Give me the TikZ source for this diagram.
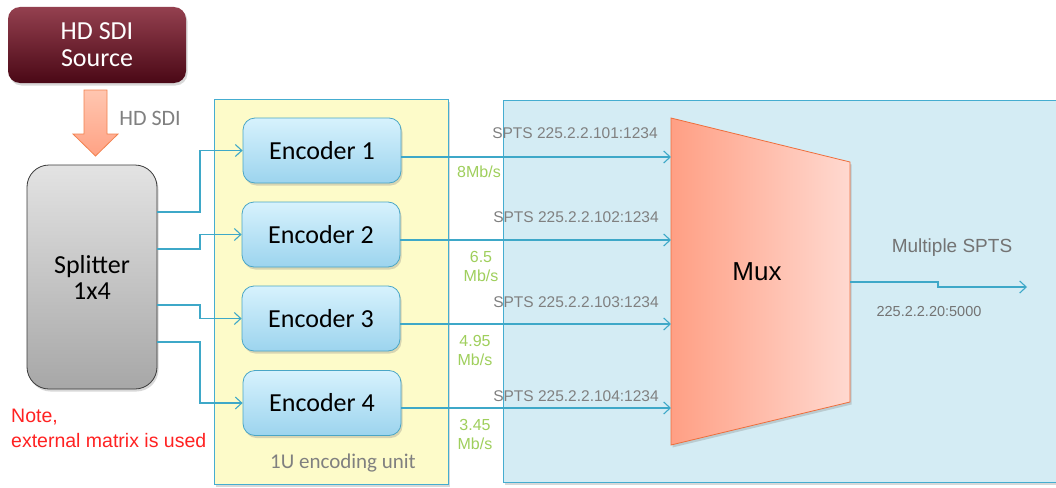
\documentclass[tikz,border=0pt]{standalone}
\usepackage{fontspec}
\setmainfont{Carlito}
\newfontfamily\arialfont{Liberation Sans}
\usetikzlibrary{arrows.meta,shadows,calc}

\definecolor{srcTop}{HTML}{94404F}
\definecolor{srcBot}{HTML}{4A0816}
\definecolor{arrFillA}{HTML}{FFC6B0}
\definecolor{arrFillB}{HTML}{FFA284}
\definecolor{arrEdge}{HTML}{F2824F}
\definecolor{splitTop}{HTML}{E3E3E3}
\definecolor{splitBot}{HTML}{A7A7A7}
\definecolor{splitEdge}{HTML}{3A3A3A}
\definecolor{unitFill}{HTML}{FDFBC9}
\definecolor{netFill}{HTML}{D4ECF4}
\definecolor{boxEdge}{HTML}{45ADD0}
\definecolor{encTop}{HTML}{D7F2FD}
\definecolor{encBot}{HTML}{9CD4EE}
\definecolor{encEdge}{HTML}{4AA6C6}
\definecolor{wireBlue}{HTML}{3EA8C8}
\definecolor{muxL}{HTML}{FF9F84}
\definecolor{muxR}{HTML}{FFD9D0}
\definecolor{muxEdge}{HTML}{EE6E3C}
\definecolor{txtGray}{HTML}{808080}
\definecolor{rateGreen}{HTML}{9FCF5C}
\definecolor{noteRed}{HTML}{FF2222}

\tikzset{
  softshadow/.style={drop shadow={opacity=0.3, shadow xshift=1.5pt, shadow yshift=-2.5pt}},
  wire/.style={draw=wireBlue, line width=1.1pt},
  conn/.style={wire, -{Straight Barb[length=6.5pt,width=12pt,line width=1.1pt]}},
  encbox/.style={rounded corners=12pt, draw=encEdge, line width=0.8pt,
    top color=encTop, bottom color=encBot, minimum width=158pt, minimum height=65pt,
    font=\fontsize{26}{28}\selectfont, softshadow},
  sptslabel/.style={font=\arialfont\fontsize{15.5}{17}\selectfont, text=txtGray, inner sep=0pt},
  ratelabel/.style={font=\arialfont\fontsize{16}{19}\selectfont, text=rateGreen, align=center, inner sep=0pt},
}

\begin{document}
\begin{tikzpicture}[x=1pt,y=-1pt]
\useasboundingbox (0,0) rectangle (1056,487);
\fill[white] (0,0) rectangle (1056,487);

% network area and encoding unit enclosures
\path[fill=netFill, draw=boxEdge, line width=0.8pt, softshadow] (503,100) rectangle (1075,482);
\path[fill=unitFill, draw=boxEdge, line width=0.8pt, softshadow] (214,99) rectangle (448,484);
\node[font=\fontsize{21}{24}\selectfont, text=txtGray] (unitlabel) at (343,463) {1U encoding unit};

% source
\node[rounded corners=12pt, top color=srcTop, bottom color=srcBot, minimum width=178pt, minimum height=76pt,
      text=white, align=center, font=\fontsize{26}{27}\selectfont, softshadow] (src) at (97,45) {HD SDI\\Source};

% thick down arrow from source to splitter
\path[top color=arrFillA, bottom color=arrFillB, draw=arrEdge, line width=0.8pt]
  (84,90) -- (107,90) -- (107,134) -- (118,134) -- (95.5,156) -- (73,134) -- (84,134) -- cycle;
\node[font=\fontsize{22}{24}\selectfont, text=txtGray] (sdilabel) at (150,118) {HD SDI};

% splitter
\node[rounded corners=22pt, draw=splitEdge, line width=0.8pt, top color=splitTop, bottom color=splitBot,
      minimum width=130pt, minimum height=224pt, align=center, font=\fontsize{26}{26}\selectfont, softshadow]
      (split) at (92,277) {Splitter\\1x4};

\node[anchor=west, align=left, text=noteRed, font=\arialfont\fontsize{19.5}{25}\selectfont, inner sep=0pt]
      (note) at (11,428) {Note,\\external matrix is used};

% encoders
\node[encbox] (enc1) at (322,150.5) {Encoder 1};
\node[encbox] (enc2) at (321,234.5) {Encoder 2};
\node[encbox] (enc3) at (321,318.5) {Encoder 3};
\node[encbox] (enc4) at (322,403) {Encoder 4};

% splitter fan-out
\coordinate (s1) at (157,212);
\coordinate (s2) at (157,249);
\coordinate (s3) at (157,305);
\coordinate (s4) at (157,342);
\coordinate (bus) at (200,0);
\draw[conn] (s1) -| (bus |- enc1.west) -- (enc1.west);
\draw[conn] (s2) -| (bus |- enc2.west) -- (enc2.west);
\draw[conn] (s3) -| (bus |- enc3.west) -- (enc3.west);
\draw[conn] (s4) -| (bus |- enc4.west) -- (enc4.west);

% multiplexer
\coordinate (mtl) at (671,118);
\coordinate (mtr) at (850,162);
\coordinate (mbr) at (850,402);
\coordinate (mbl) at (671,445);
\path[left color=muxL, right color=muxR, draw=muxEdge, line width=0.8pt, softshadow]
  (mtl) -- (mtr) -- (mbr) -- (mbl) -- cycle;
\node[font=\arialfont\fontsize{26}{28}\selectfont] (mux) at (757,272) {Mux};

% encoder outputs into the mux
\coordinate (in1) at (671,157);
\coordinate (in2) at (671,240);
\coordinate (in3) at (671,324);
\coordinate (in4) at (671,408);
\draw[conn] (enc1.east |- in1) -- (in1);
\draw[conn] (enc2.east |- in2) -- (in2);
\draw[conn] (enc3.east |- in3) -- (in3);
\draw[conn] (enc4.east |- in4) -- (in4);

% mux output
\coordinate (mout) at (850,282);
\coordinate (jog) at (938,282);
\coordinate (dest) at (1027,287);
\draw[conn] (mout) -- (jog) |- (dest);

% stream labels
\node[sptslabel] (sp1) at (575,133) {SPTS 225.2.2.101:1234};
\node[sptslabel] (sp2) at (576,217) {SPTS 225.2.2.102:1234};
\node[sptslabel] (sp3) at (576,302) {SPTS 225.2.2.103:1234};
\node[sptslabel] (sp4) at (576,396) {SPTS 225.2.2.104:1234};

\node[ratelabel] (r1) at (479,172) {8Mb/s};
\node[ratelabel] (r2) at (481,266) {6.5\\Mb/s};
\node[ratelabel] (r3) at (475,350) {4.95\\Mb/s};
\node[ratelabel] (r4) at (475,434) {3.45\\Mb/s};

\node[font=\arialfont\fontsize{19}{21}\selectfont, text=txtGray!90!black] (multi) at (952,248) {Multiple SPTS};
\node[font=\arialfont\fontsize{14.5}{16}\selectfont, text=txtGray!90!black] (addr) at (929,312) {225.2.2.20:5000};
\end{tikzpicture}
\end{document}
